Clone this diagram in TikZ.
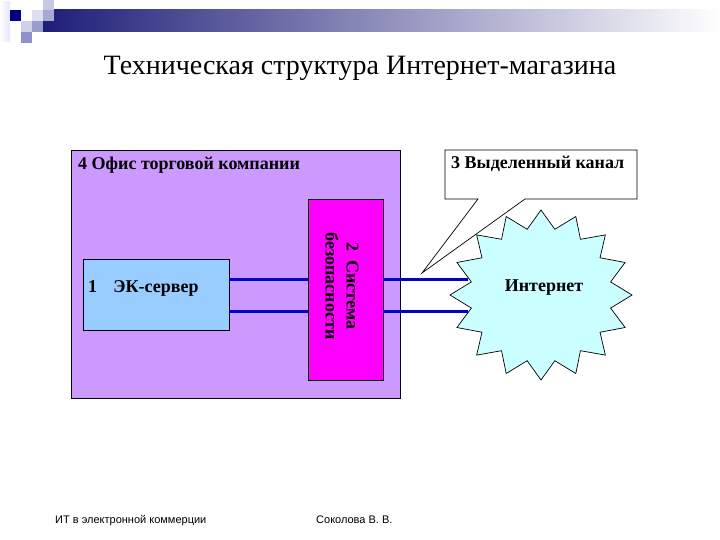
\documentclass[tikz,border=0pt]{standalone}
\usepackage{fontspec}
\setmainfont{Liberation Serif}
\newfontfamily\footfont{Liberation Sans}
\definecolor{officefill}{RGB}{204,153,255}
\definecolor{serverfill}{RGB}{153,204,255}
\definecolor{secfill}{RGB}{255,0,255}
\definecolor{netfill}{RGB}{204,255,255}
\definecolor{linkblue}{RGB}{0,0,204}
\definecolor{navy}{RGB}{0,0,128}
\definecolor{barnavy}{RGB}{30,30,120}
\tikzset{
  boxstyle/.style={draw=black, line width=0.8pt, inner sep=0pt, outer sep=0pt},
  lbl/.style={font=\bfseries\fontsize{18}{21}\selectfont, inner sep=0pt},
  link/.style={draw=linkblue, line width=3pt},
  thin/.style={draw=black, line width=0.7pt},
  foot/.style={font=\footfont\fontsize{11}{13}\selectfont, inner sep=0pt, anchor=base west},
  sq/.style={draw=none}
}
\begin{document}
\begin{tikzpicture}[x=1pt,y=-1pt]
\useasboundingbox (0,0) rectangle (720,540);
\fill[white] (0,0) rectangle (720,540);
% header decoration
\shade[left color=white, right color=blue!10!white] (0,2) rectangle (10,42);
\shade[left color=barnavy, right color=white] (43,10) rectangle (720,32);
\fill[sq, fill={rgb,255:red,200;green,200;blue,230}] (43,0) rectangle (54,10);
\fill[sq, fill=navy] (10,10) rectangle (21,21);
\fill[sq, fill={rgb,255:red,222;green,222;blue,240}] (32,10) rectangle (43,21);
\fill[sq, fill={rgb,255:red,168;green,168;blue,212}] (43,10) rectangle (54,21);
\fill[sq, fill={rgb,255:red,208;green,208;blue,234}] (21,21) rectangle (32,32);
\fill[sq, fill={rgb,255:red,156;green,156;blue,204}] (32,21) rectangle (43,32);
\fill[sq, fill={rgb,255:red,144;green,144;blue,200}] (21,32) rectangle (32,43);
% title
\node[font=\fontsize{28}{32}\selectfont, anchor=base, inner sep=0pt] (title) at (360,75) {Техническая структура Интернет-магазина};
% office
\node[boxstyle, fill=officefill, minimum width=329pt, minimum height=248pt] (office) at (235.5,274) {};
\node[lbl, anchor=base west] (officelbl) at (78,170) {4 Офис торговой компании};
% server
\node[boxstyle, fill=serverfill, minimum width=146pt, minimum height=71pt] (server) at (156,294.5) {};
\node[lbl, anchor=base west] (serverlbl) at (88,292) {1\hspace{0.9em}ЭК-сервер};
% security
\node[boxstyle, fill=secfill, minimum width=75pt, minimum height=181pt] (sec) at (345.5,289.5) {};
\node[lbl, rotate=-90, align=center, font=\bfseries\fontsize{18}{21}\selectfont] (seclbl) at (342,286) {2\hspace{0.5em}Система\\безопасности};
% internet star
\begin{scope}[shift={(541,295)}]
\filldraw[thin, fill=netfill] (90:91 and 85)
  \foreach \i in {0,...,15}{ -- ({101.25+\i*22.5}:71 and 67) -- ({112.5+\i*22.5}:91 and 85)} -- cycle;
\end{scope}
\node[lbl, anchor=base] (inet) at (544,291) {Интернет};
% callout
\filldraw[thin, fill=white] (445,150) -- (637,150) -- (637,199) -- (525,199) -- (422,273) -- (478,199) -- (445,199) -- cycle;
\node[lbl, anchor=base west] (chanlbl) at (451,169) {3 Выделенный канал};
% links
\coordinate (n1) at (468,279);
\coordinate (n2) at (468,311);
\draw[link] (server.east |- 0,279) -- (sec.west |- 0,279);
\draw[link] (server.east |- 0,311) -- (sec.west |- 0,311);
\draw[link] (sec.east |- 0,279) -- (n1);
\draw[link] (sec.east |- 0,311) -- (n2);
% footer
\node[foot] (foot1) at (55,523) {ИТ в электронной коммерции};
\node[foot] (foot2) at (316,523) {Соколова В. В.};
\end{tikzpicture}
\end{document}
